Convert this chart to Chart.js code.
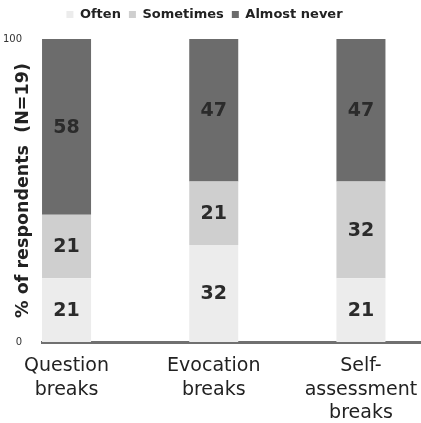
<!DOCTYPE html>
<html>
<head>
<meta charset="utf-8">
<script src="https://cdn.jsdelivr.net/npm/chart.js@4"></script>
<style>
  html, body { margin: 0; padding: 0; background: #fff; }
  #wrap { width: 421px; height: 423px; }
</style>
</head>
<body>
<div id="wrap"><canvas id="chartBreaks"></canvas></div>
<script>
// categories (x axis), one label line per array item
var categories = [
  ["Question", "breaks"],
  ["Evocation", "breaks"],
  ["Self-", "assessment", "breaks"]
];
// % of respondents, bottom to top
var often = [21, 32, 21];
var sometimes = [21, 21, 32];
var almostNever = [58, 47, 47];
var yTicks = [0, 100];

var fontFamily = "'DejaVu Sans', Verdana, sans-serif";
// x range in category units so the bars sit where the original has them
var xMin = -0.1667;
var xMax = 2.408;

function toPoints(values) {
  return values.map(function(v, i) { return {x: i, y: v}; });
}

// write each value in the middle of its segment
var segmentLabels = {
  id: 'segmentLabels',
  afterDatasetsDraw: function(chart) {
    var ctx = chart.ctx;
    ctx.save();
    ctx.font = "bold 19px " + fontFamily;
    ctx.fillStyle = "#2b2b2b";
    ctx.textAlign = "center";
    ctx.textBaseline = "middle";
    chart.data.datasets.forEach(function(ds, di) {
      var meta = chart.getDatasetMeta(di);
      meta.data.forEach(function(el, i) {
        var p = el.getProps(['x', 'y', 'base'], true);
        ctx.fillText(ds.data[i].y, p.x, (p.y + p.base) / 2 + 1);
      });
    });
    ctx.restore();
  }
};

// a bit more room under the legend, and nudge it left like the original
var legendGap = {
  id: 'legendGap',
  beforeInit: function(chart) {
    var fit = chart.legend.fit;
    chart.legend.fit = function() {
      fit.call(this);
      this.height += 8;
    };
  },
  beforeDraw: function(chart) {
    chart.legend.right = chart.legend.left + chart.width - 12;
  }
};

var data = {
  datasets: [
    { label: "Often", data: toPoints(often), backgroundColor: "#ececec" },
    { label: "Sometimes", data: toPoints(sometimes), backgroundColor: "#cfcfcf" },
    { label: "Almost never", data: toPoints(almostNever), backgroundColor: "#6c6c6c" }
  ]
};

var options = {
  responsive: true,
  maintainAspectRatio: false,
  animation: false,
  layout: { padding: 0 },
  datasets: {
    bar: { categoryPercentage: 1, barPercentage: 0.333, borderWidth: 0 }
  },
  plugins: {
    tooltip: { enabled: false },
    legend: {
      position: 'top',
      labels: {
        boxWidth: 7,
        boxHeight: 7,
        padding: 8,
        color: "#222",
        font: { family: fontFamily, size: 13, weight: 'bold' }
      }
    }
  },
  scales: {
    x: {
      type: 'linear',
      stacked: true,
      offset: false,
      bounds: 'data',
      min: xMin,
      max: xMax,
      grid: { display: false, drawTicks: false },
      border: { display: true, color: "#707070", width: 3 },
      afterBuildTicks: function(scale) {
        scale.ticks = categories.map(function(c, i) { return {value: i}; });
        scale.min = xMin;
        scale.max = xMax;
      },
      afterFit: function(scale) {
        scale.height = 81;
        scale.paddingLeft = 0;
        scale.paddingRight = 0;
      },
      ticks: {
        autoSkip: false,
        maxRotation: 0,
        includeBounds: false,
        padding: 12,
        color: "#222",
        font: { family: fontFamily, size: 19, lineHeight: 1.25 },
        callback: function(value) { return categories[value]; }
      }
    },
    y: {
      stacked: true,
      min: 0,
      max: 100,
      grid: { display: false },
      border: { display: false },
      afterBuildTicks: function(scale) {
        scale.ticks = yTicks.map(function(v) { return {value: v}; });
      },
      afterFit: function(scale) { scale.width = 42; },
      ticks: {
        padding: 12,
        color: "#333",
        font: { family: fontFamily, size: 10 }
      },
      title: {
        display: true,
        text: "% of respondents  (N=19)",
        color: "#222",
        padding: { top: 12.5, bottom: 0 },
        font: { family: fontFamily, size: 17.5, weight: 'bold' }
      }
    }
  }
};

var ctx = document.getElementById("chartBreaks").getContext("2d");
var breaksChart = new Chart(ctx, {
  type: 'bar',
  data: data,
  options: options,
  plugins: [segmentLabels, legendGap]
});
</script>
</body>
</html>
